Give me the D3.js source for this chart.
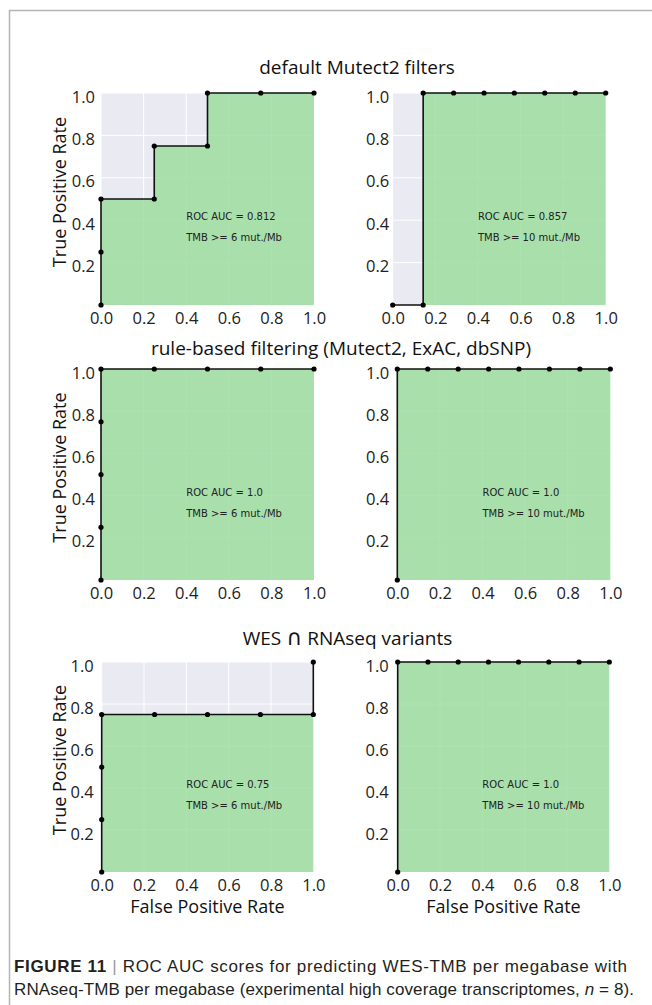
<!DOCTYPE html>
<html>
<head>
<meta charset="utf-8">
<script src="https://cdn.jsdelivr.net/npm/d3@7"></script>
<style>
  body { margin: 0; background: #fff; }
  svg { display: block; }
</style>
</head>
<body>
<svg id="fig" width="652" height="1005"></svg>
<script>
// ROC curves, one pair of arrays per panel (false positive rate, true positive rate)
var fprDefault6 = [0, 0, 0, 0.25, 0.25, 0.5, 0.5, 0.75, 1.0];
var tprDefault6 = [0, 0.25, 0.5, 0.5, 0.75, 0.75, 1.0, 1.0, 1.0];
var fprDefault10 = [0, 0.143, 0.143, 0.286, 0.429, 0.571, 0.714, 0.857, 1.0];
var tprDefault10 = [0, 0, 1.0, 1.0, 1.0, 1.0, 1.0, 1.0, 1.0];
var fprRule6 = [0, 0, 0, 0, 0, 0.25, 0.5, 0.75, 1.0];
var tprRule6 = [0, 0.25, 0.5, 0.75, 1.0, 1.0, 1.0, 1.0, 1.0];
var fprRule10 = [0, 0, 0.143, 0.286, 0.429, 0.571, 0.714, 0.857, 1.0];
var tprRule10 = [0, 1.0, 1.0, 1.0, 1.0, 1.0, 1.0, 1.0, 1.0];
var fprWes6 = [0, 0, 0, 0, 0.25, 0.5, 0.75, 1.0, 1.0];
var tprWes6 = [0, 0.25, 0.5, 0.75, 0.75, 0.75, 0.75, 0.75, 1.0];
var fprWes10 = [0, 0, 0.143, 0.286, 0.429, 0.571, 0.714, 0.857, 1.0];
var tprWes10 = [0, 1.0, 1.0, 1.0, 1.0, 1.0, 1.0, 1.0, 1.0];

var aucLabels = ["ROC AUC = 0.812", "ROC AUC = 0.857", "ROC AUC = 1.0", "ROC AUC = 1.0", "ROC AUC = 0.75", "ROC AUC = 1.0"];
var tmbLabels = ["TMB >= 6 mut./Mb", "TMB >= 10 mut./Mb", "TMB >= 6 mut./Mb", "TMB >= 10 mut./Mb", "TMB >= 6 mut./Mb", "TMB >= 10 mut./Mb"];
var rowTitles = [["default Mutect2 filters"], ["rule-based filtering (Mutect2, ExAC, dbSNP)"], ["WES ", "\u2229", " RNAseq variants"]];
var xTicks = [0, 0.2, 0.4, 0.6, 0.8, 1.0];
var yTicks = [0.2, 0.4, 0.6, 0.8, 1.0];

var curves = [
  [fprDefault6, tprDefault6], [fprDefault10, tprDefault10],
  [fprRule6, tprRule6], [fprRule10, tprRule10],
  [fprWes6, tprWes6], [fprWes10, tprWes10]
];

// panel boxes in pixels
var layout = [
  {left: 101, right: 314, top: 93, bottom: 305, pad: 6},
  {left: 392.7, right: 605.7, top: 93, bottom: 305, pad: 3.5},
  {left: 101, right: 314, top: 369, bottom: 580, pad: 6},
  {left: 397.3, right: 610.3, top: 369, bottom: 580, pad: 8},
  {left: 101.7, right: 313.3, top: 662, bottom: 872, pad: 8},
  {left: 397.7, right: 609.3, top: 662, bottom: 872, pad: 9}
];
var titlePos = [{x: 357, y: 74}, {x: 341, y: 355}, {x: 347.5, y: 645}];

var svg = d3.select('#fig');

// frame
svg.append('path')
  .attr('d', 'M9.5,1005 V10.5 H652')
  .attr('fill', 'none')
  .attr('stroke', '#b4b4b4')
  .attr('stroke-width', 1.5);

titlePos.forEach(function(p, i) {
  var t = svg.append('text')
    .attr('x', p.x).attr('y', p.y)
    .attr('text-anchor', 'middle')
    .attr('font-family', '"Open Sans", sans-serif')
    .attr('font-size', 19)
    .attr('fill', '#111');
  rowTitles[i].forEach(function(s) {
    var ts = t.append('tspan').text(s);
    if (s === '\u2229') ts.attr('font-family', '"DejaVu Sans ExtraLight", "DejaVu Sans", sans-serif').attr('font-size', 22);
  });
});

curves.forEach(function(c, i) {
  var L = layout[i];
  var x = d3.scaleLinear().domain([0, 1]).range([L.left, L.right]);
  var y = d3.scaleLinear().domain([0, 1]).range([L.bottom, L.top]);
  var pts = c[0].map(function(f, k) { return [f, c[1][k]]; });
  var g = svg.append('g');

  g.append('rect')
    .attr('x', x(0)).attr('y', y(1))
    .attr('width', x(1) - x(0)).attr('height', y(0) - y(1))
    .attr('fill', '#eaeaf2');

  g.selectAll('.vg').data(xTicks).enter().append('line')
    .attr('x1', d => x(d)).attr('x2', d => x(d))
    .attr('y1', y(0)).attr('y2', y(1))
    .attr('stroke', '#fff').attr('stroke-width', 1);
  g.selectAll('.hg').data(yTicks).enter().append('line')
    .attr('x1', x(0)).attr('x2', x(1))
    .attr('y1', d => y(d)).attr('y2', d => y(d))
    .attr('stroke', '#fff').attr('stroke-width', 1);

  var area = d3.area().x(d => x(d[0])).y0(y(0)).y1(d => y(d[1]));
  g.append('path')
    .attr('d', area(pts))
    .attr('fill', '#9ddd9f')
    .attr('fill-opacity', 0.85);

  var line = d3.line().x(d => x(d[0])).y(d => y(d[1]));
  g.append('path')
    .attr('d', line(pts))
    .attr('fill', 'none')
    .attr('stroke', '#111')
    .attr('stroke-width', 1.6);

  g.selectAll('.dot').data(pts).enter().append('circle')
    .attr('cx', d => x(d[0])).attr('cy', d => y(d[1]))
    .attr('r', 2.6)
    .attr('fill', '#000');

  // axes
  var xa = g.append('g')
    .attr('transform', `translate(0, ${y(0)})`)
    .call(d3.axisBottom(x).tickValues(xTicks).tickFormat(d3.format('.1f')).tickSize(0).tickPadding(7));
  var ya = g.append('g')
    .attr('transform', `translate(${x(0)}, 0)`)
    .call(d3.axisLeft(y).tickValues(yTicks).tickFormat(d3.format('.1f')).tickSize(0).tickPadding(L.pad));
  [xa, ya].forEach(function(a) {
    a.select('.domain').remove();
    a.selectAll('text')
      .attr('font-family', '"Open Sans", sans-serif')
      .attr('font-size', 16.5)
      .attr('fill', '#222');
  });
  ya.selectAll('text').attr('dy', '0.55em');

  // annotation
  [[aucLabels[i], 0.4], [tmbLabels[i], 0.3]].forEach(function(t) {
    g.append('text')
      .attr('x', x(0.4)).attr('y', y(t[1]))
      .attr('font-family', '"DejaVu Sans", sans-serif')
      .attr('font-size', 10)
      .attr('fill', '#222')
      .text(t[0]);
  });

  if (i % 2 === 0) {
    g.append('text')
      .attr('transform', `translate(66, ${(L.top + L.bottom) / 2 - 7}) rotate(-90)`)
      .attr('text-anchor', 'middle')
      .attr('font-family', '"Open Sans", sans-serif')
      .attr('font-size', 18)
      .attr('fill', '#111')
      .text('True Positive Rate');
  }
  if (i >= 4) {
    g.append('text')
      .attr('x', (L.left + L.right) / 2).attr('y', 913)
      .attr('text-anchor', 'middle')
      .attr('font-family', '"Open Sans", sans-serif')
      .attr('font-size', 18)
      .attr('fill', '#111')
      .text('False Positive Rate');
  }
});

// caption
var cap1 = svg.append('text')
  .attr('x', 14).attr('y', 972)
  .attr('font-family', '"Liberation Sans", Arial, sans-serif')
  .attr('font-size', 17)
  .attr('fill', '#231f20')
  .attr('textLength', 613)
  .attr('lengthAdjust', 'spacing');
cap1.append('tspan').attr('font-weight', 'bold').text('FIGURE 11');
cap1.append('tspan').attr('fill', '#999').text(' | ');
cap1.append('tspan').text('ROC AUC scores for predicting WES-TMB per megabase with');

var cap2 = svg.append('text')
  .attr('x', 14).attr('y', 995)
  .attr('font-family', '"Liberation Sans", Arial, sans-serif')
  .attr('font-size', 17)
  .attr('fill', '#231f20')
  .attr('textLength', 620)
  .attr('lengthAdjust', 'spacing');
cap2.append('tspan').text('RNAseq-TMB per megabase (experimental high coverage transcriptomes, ');
cap2.append('tspan').attr('font-style', 'italic').text('n');
cap2.append('tspan').text(' = 8).');
</script>
</body>
</html>
